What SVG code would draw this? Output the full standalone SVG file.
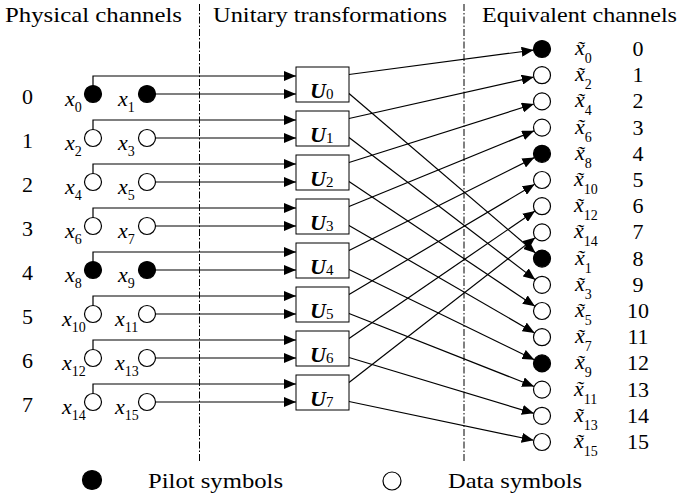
<svg xmlns="http://www.w3.org/2000/svg" width="679" height="498" viewBox="0 0 679 498">
<style>
text{font-family:"Liberation Serif","Times New Roman",serif;font-size:22px;fill:#000}
.i{font-style:italic}
.s{font-size:14px;font-style:normal}
.ub{font-weight:bold;font-style:italic}
.us{font-size:15px;font-style:normal;font-weight:normal}
.f{fill:#000;stroke:#000;stroke-width:1.2}
.o{fill:#fff;stroke:#000;stroke-width:1.2}
.box{fill:#fff;stroke:#000;stroke-width:1}
.c{fill:none;stroke:#000;stroke-width:1.2;marker-end:url(#ah)}
.d{fill:none;stroke:#000;stroke-width:1;stroke-dasharray:7,2,1.5,2}
</style>
<defs>
<marker id="ah" markerUnits="userSpaceOnUse" markerWidth="12" markerHeight="10" refX="12" refY="5" orient="auto"><path d="M0,0 L12,5 L0,10 z" fill="#000"/></marker>
</defs>
<rect width="679" height="498" fill="#fff"/>
<g id="titles">
<text x="5" y="22" textLength="177" lengthAdjust="spacingAndGlyphs">Physical channels</text>
<text x="213" y="22" textLength="234" lengthAdjust="spacingAndGlyphs">Unitary transformations</text>
<text x="482" y="22" textLength="195" lengthAdjust="spacingAndGlyphs">Equivalent channels</text>
</g>
<g id="dividers">
<line class="d" x1="199.5" y1="4" x2="199.5" y2="462"/>
<line class="d" x1="464" y1="4" x2="464" y2="462"/>
</g>
<g id="row-labels">
<text x="22" y="103.5">0</text>
<text x="22" y="147.5">1</text>
<text x="22" y="191.5">2</text>
<text x="22" y="235.5">3</text>
<text x="22" y="279.5">4</text>
<text x="22" y="323.5">5</text>
<text x="22" y="367.5">6</text>
<text x="22" y="411.5">7</text>
</g>
<g id="connectors">
<path class="c" d="M93,85.5 V76 H296"/><path class="c" d="M155.5,94 H296"/>
<path class="c" d="M93,129.5 V120 H296"/><path class="c" d="M155.5,138 H296"/>
<path class="c" d="M93,173.5 V164 H296"/><path class="c" d="M155.5,182 H296"/>
<path class="c" d="M93,217.5 V208 H296"/><path class="c" d="M155.5,226 H296"/>
<path class="c" d="M93,261.5 V252 H296"/><path class="c" d="M155.5,270 H296"/>
<path class="c" d="M93,305.5 V296 H296"/><path class="c" d="M155.5,314 H296"/>
<path class="c" d="M93,349.5 V340 H296"/><path class="c" d="M155.5,358 H296"/>
<path class="c" d="M93,393.5 V384 H296"/><path class="c" d="M155.5,402 H296"/>
<path class="c" d="M349,74.5 L533.57,50.11"/>
<path class="c" d="M349,118.5 L533.71,77.06"/>
<path class="c" d="M349,162.5 L533.9,103.97"/>
<path class="c" d="M349,206.5 L534.13,130.82"/>
<path class="c" d="M349,250.5 L534.4,157.61"/>
<path class="c" d="M349,294.5 L534.69,184.34"/>
<path class="c" d="M349,338.5 L534.99,211.01"/>
<path class="c" d="M349,382.5 L535.29,237.62"/>
<path class="c" d="M349,93.5 L535.54,253.07"/>
<path class="c" d="M349,137.5 L535.24,279.64"/>
<path class="c" d="M349,181.5 L534.94,306.26"/>
<path class="c" d="M349,225.5 L534.64,332.94"/>
<path class="c" d="M349,269.5 L534.36,359.68"/>
<path class="c" d="M349,313.5 L534.09,386.48"/>
<path class="c" d="M349,357.5 L533.86,413.34"/>
<path class="c" d="M349,401.5 L533.68,440.25"/>
</g>
<g id="x0"><circle class="f" cx="93" cy="94" r="8.5"/><text class="i" x="65" y="106">x<tspan class="s" dy="6">0</tspan></text></g>
<g id="x1"><circle class="f" cx="147" cy="94" r="8.5"/><text class="i" x="118" y="106">x<tspan class="s" dy="6">1</tspan></text></g>
<g id="x2"><circle class="o" cx="93" cy="138" r="8.5"/><text class="i" x="65" y="150">x<tspan class="s" dy="6">2</tspan></text></g>
<g id="x3"><circle class="o" cx="147" cy="138" r="8.5"/><text class="i" x="118" y="150">x<tspan class="s" dy="6">3</tspan></text></g>
<g id="x4"><circle class="o" cx="93" cy="182" r="8.5"/><text class="i" x="65" y="194">x<tspan class="s" dy="6">4</tspan></text></g>
<g id="x5"><circle class="o" cx="147" cy="182" r="8.5"/><text class="i" x="118" y="194">x<tspan class="s" dy="6">5</tspan></text></g>
<g id="x6"><circle class="o" cx="93" cy="226" r="8.5"/><text class="i" x="65" y="238">x<tspan class="s" dy="6">6</tspan></text></g>
<g id="x7"><circle class="o" cx="147" cy="226" r="8.5"/><text class="i" x="118" y="238">x<tspan class="s" dy="6">7</tspan></text></g>
<g id="x8"><circle class="f" cx="93" cy="270" r="8.5"/><text class="i" x="65" y="282">x<tspan class="s" dy="6">8</tspan></text></g>
<g id="x9"><circle class="f" cx="147" cy="270" r="8.5"/><text class="i" x="118" y="282">x<tspan class="s" dy="6">9</tspan></text></g>
<g id="x10"><circle class="o" cx="93" cy="314" r="8.5"/><text class="i" x="62" y="326">x<tspan class="s" dy="6">10</tspan></text></g>
<g id="x11"><circle class="o" cx="147" cy="314" r="8.5"/><text class="i" x="115" y="326">x<tspan class="s" dy="6">11</tspan></text></g>
<g id="x12"><circle class="o" cx="93" cy="358" r="8.5"/><text class="i" x="62" y="370">x<tspan class="s" dy="6">12</tspan></text></g>
<g id="x13"><circle class="o" cx="147" cy="358" r="8.5"/><text class="i" x="115" y="370">x<tspan class="s" dy="6">13</tspan></text></g>
<g id="x14"><circle class="o" cx="93" cy="402" r="8.5"/><text class="i" x="62" y="414">x<tspan class="s" dy="6">14</tspan></text></g>
<g id="x15"><circle class="o" cx="147" cy="402" r="8.5"/><text class="i" x="115" y="414">x<tspan class="s" dy="6">15</tspan></text></g>
<g id="U0"><rect class="box" x="296" y="67" width="53" height="35"/><text class="ub" x="310" y="98">U<tspan class="us" dy="1">0</tspan></text></g>
<g id="U1"><rect class="box" x="296" y="111" width="53" height="35"/><text class="ub" x="310" y="142">U<tspan class="us" dy="1">1</tspan></text></g>
<g id="U2"><rect class="box" x="296" y="155" width="53" height="35"/><text class="ub" x="310" y="186">U<tspan class="us" dy="1">2</tspan></text></g>
<g id="U3"><rect class="box" x="296" y="199" width="53" height="35"/><text class="ub" x="310" y="230">U<tspan class="us" dy="1">3</tspan></text></g>
<g id="U4"><rect class="box" x="296" y="243" width="53" height="35"/><text class="ub" x="310" y="274">U<tspan class="us" dy="1">4</tspan></text></g>
<g id="U5"><rect class="box" x="296" y="287" width="53" height="35"/><text class="ub" x="310" y="318">U<tspan class="us" dy="1">5</tspan></text></g>
<g id="U6"><rect class="box" x="296" y="331" width="53" height="35"/><text class="ub" x="310" y="362">U<tspan class="us" dy="1">6</tspan></text></g>
<g id="U7"><rect class="box" x="296" y="375" width="53" height="35"/><text class="ub" x="310" y="406">U<tspan class="us" dy="1">7</tspan></text></g>
<g id="e0"><circle class="f" cx="542" cy="49" r="8.5"/><text class="i" x="575" y="55">x&#x303;<tspan class="s" dy="8">0</tspan></text><text x="638" y="56" text-anchor="middle">0</text></g>
<g id="e1"><circle class="o" cx="542" cy="75.2" r="8.5"/><text class="i" x="575" y="81.2">x&#x303;<tspan class="s" dy="8">2</tspan></text><text x="638" y="82.2" text-anchor="middle">1</text></g>
<g id="e2"><circle class="o" cx="542" cy="101.4" r="8.5"/><text class="i" x="575" y="107.4">x&#x303;<tspan class="s" dy="8">4</tspan></text><text x="638" y="108.4" text-anchor="middle">2</text></g>
<g id="e3"><circle class="o" cx="542" cy="127.6" r="8.5"/><text class="i" x="575" y="133.6">x&#x303;<tspan class="s" dy="8">6</tspan></text><text x="638" y="134.6" text-anchor="middle">3</text></g>
<g id="e4"><circle class="f" cx="542" cy="153.8" r="8.5"/><text class="i" x="575" y="159.8">x&#x303;<tspan class="s" dy="8">8</tspan></text><text x="638" y="160.8" text-anchor="middle">4</text></g>
<g id="e5"><circle class="o" cx="542" cy="180" r="8.5"/><text class="i" x="574" y="186">x&#x303;<tspan class="s" dy="8">10</tspan></text><text x="638" y="187" text-anchor="middle">5</text></g>
<g id="e6"><circle class="o" cx="542" cy="206.2" r="8.5"/><text class="i" x="574" y="212.2">x&#x303;<tspan class="s" dy="8">12</tspan></text><text x="638" y="213.2" text-anchor="middle">6</text></g>
<g id="e7"><circle class="o" cx="542" cy="232.4" r="8.5"/><text class="i" x="574" y="238.4">x&#x303;<tspan class="s" dy="8">14</tspan></text><text x="638" y="239.4" text-anchor="middle">7</text></g>
<g id="e8"><circle class="f" cx="542" cy="258.6" r="8.5"/><text class="i" x="575" y="264.6">x&#x303;<tspan class="s" dy="8">1</tspan></text><text x="638" y="265.6" text-anchor="middle">8</text></g>
<g id="e9"><circle class="o" cx="542" cy="284.8" r="8.5"/><text class="i" x="575" y="290.8">x&#x303;<tspan class="s" dy="8">3</tspan></text><text x="638" y="291.8" text-anchor="middle">9</text></g>
<g id="e10"><circle class="o" cx="542" cy="311" r="8.5"/><text class="i" x="575" y="317">x&#x303;<tspan class="s" dy="8">5</tspan></text><text x="638" y="318" text-anchor="middle">10</text></g>
<g id="e11"><circle class="o" cx="542" cy="337.2" r="8.5"/><text class="i" x="575" y="343.2">x&#x303;<tspan class="s" dy="8">7</tspan></text><text x="638" y="344.2" text-anchor="middle">11</text></g>
<g id="e12"><circle class="f" cx="542" cy="363.4" r="8.5"/><text class="i" x="575" y="369.4">x&#x303;<tspan class="s" dy="8">9</tspan></text><text x="638" y="370.4" text-anchor="middle">12</text></g>
<g id="e13"><circle class="o" cx="542" cy="389.6" r="8.5"/><text class="i" x="574" y="395.6">x&#x303;<tspan class="s" dy="8">11</tspan></text><text x="638" y="396.6" text-anchor="middle">13</text></g>
<g id="e14"><circle class="o" cx="542" cy="415.8" r="8.5"/><text class="i" x="574" y="421.8">x&#x303;<tspan class="s" dy="8">13</tspan></text><text x="638" y="422.8" text-anchor="middle">14</text></g>
<g id="e15"><circle class="o" cx="542" cy="442" r="8.5"/><text class="i" x="574" y="448">x&#x303;<tspan class="s" dy="8">15</tspan></text><text x="638" y="449" text-anchor="middle">15</text></g>
<g id="legend-pilot"><circle class="f" cx="92" cy="480" r="9.5"/><text x="148" y="488" textLength="135" lengthAdjust="spacingAndGlyphs">Pilot symbols</text></g>
<g id="legend-data"><circle class="o" cx="392" cy="481" r="9"/><text x="448" y="488" textLength="134" lengthAdjust="spacingAndGlyphs">Data symbols</text></g>
</svg>
